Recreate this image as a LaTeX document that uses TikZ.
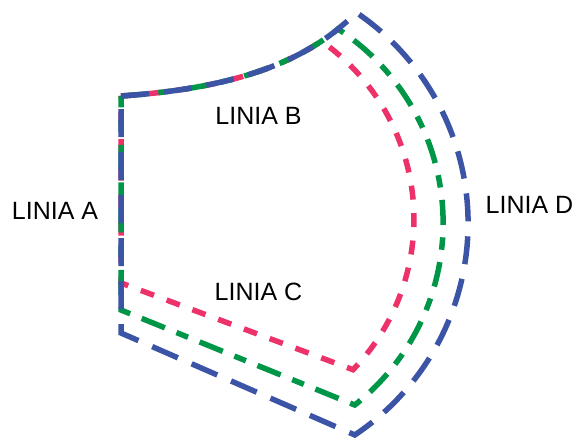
\documentclass[tikz,border=0pt]{standalone}
\usepackage{fontspec}
\setmainfont{Liberation Sans}
\definecolor{patblue}{RGB}{60,84,165}
\definecolor{patgreen}{RGB}{0,150,72}
\definecolor{patpink}{RGB}{236,50,104}
\tikzset{
x=1pt, y=1pt, % one unit is one pixel of the pattern
every node/.style={font=\fontsize{25}{30}\selectfont, inner sep=0pt}, % labels
patline/.style={line width=5.5pt, miter limit=20}, % thick pattern lines
blueline/.style={patline, draw=patblue, dash pattern=on 28pt off 15pt}, % long dashes
greenline/.style={patline, draw=patgreen, dash pattern=on 25pt off 12.5pt on 12.5pt off 12.5pt}, % long and short
pinkline/.style={patline, draw=patpink, dash pattern=on 14pt off 13.5pt}, % short dashes
}
\begin{document}
\begin{tikzpicture}
\useasboundingbox (0,0) rectangle (578,441);
\coordinate (tl) at (121,345);
\coordinate (top) at (338,412);
\coordinate (apex) at (357,428);
\coordinate (pinkleft) at (121,158);
\coordinate (greenleft) at (121,131);
\coordinate (blueleft) at (121,108);
% pink outline
\draw[pinkline] (tl) .. controls (201.1,350.4) and (269.9,365.5) .. (321.4,399.8)
  arc[start angle=55, end angle=-44, radius=217] -- (pinkleft) -- cycle;
% green outline
\draw[greenline] (tl) .. controls (210,351) and (285,369) .. (top)
  arc[start angle=56.9, end angle=-51.8, radius=231.6] -- (greenleft) -- cycle;
% blue outline
\draw[blueline] (tl) .. controls (210,351) and (285,369) .. (top) -- (apex)
  arc[start angle=55.7, end angle=-56.3, radius=254.5] -- (blueleft) -- cycle;
\node (linA) at (55,230) {LINIA A};
\node (linB) at (258.5,325) {LINIA B};
\node (linC) at (258.5,149.5) {LINIA C};
\node (linD) at (529.5,236) {LINIA D};
\end{tikzpicture}
\end{document}
